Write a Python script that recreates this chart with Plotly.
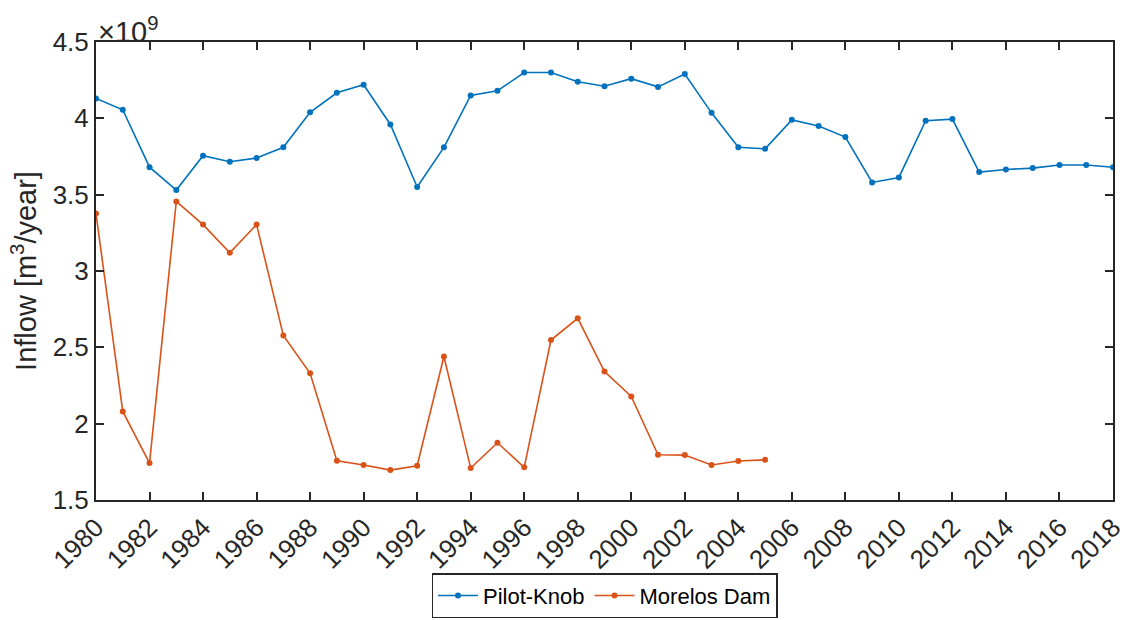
import plotly.graph_objects as go

years = list(range(1980, 2019))
pilot_knob = [4.13, 4.056, 3.68, 3.53, 3.755, 3.716, 3.74, 3.81, 4.04, 4.167,
              4.22, 3.96, 3.55, 3.81, 4.15, 4.18, 4.30, 4.30, 4.24, 4.21,
              4.26, 4.206, 4.29, 4.036, 3.81, 3.80, 3.99, 3.95, 3.877, 3.58,
              3.613, 3.984, 3.995, 3.648, 3.665, 3.674, 3.694, 3.694, 3.68]
morelos_years = list(range(1980, 2006))
morelos_dam = [3.376, 2.08, 1.742, 3.456, 3.304, 3.119, 3.304, 2.578, 2.33, 1.757,
               1.729, 1.696, 1.724, 2.44, 1.709, 1.875, 1.714, 2.548, 2.69, 2.341,
               2.178, 1.796, 1.794, 1.729, 1.755, 1.763]
y_ticks = [1.5, 2, 2.5, 3, 3.5, 4, 4.5]
x_ticks = list(range(1980, 2019, 2))

scale = 1e9
font = 'Liberation Sans, Arial, sans-serif'
ink = '#262626'

fig = go.Figure()
fig.add_trace(go.Scatter(
    x=years, y=[v * scale for v in pilot_knob], name='Pilot-Knob',
    mode='lines+markers', line=dict(color='#0072BD', width=1.6),
    marker=dict(symbol='circle', size=6, color='#0072BD'),
))
fig.add_trace(go.Scatter(
    x=morelos_years, y=[v * scale for v in morelos_dam], name='Morelos Dam',
    mode='lines+markers', line=dict(color='#D95319', width=1.6),
    marker=dict(symbol='circle', size=6, color='#D95319'),
))

axis_common = dict(
    showline=True, linecolor=ink, linewidth=2, mirror='ticks',
    ticks='inside', ticklen=8, tickwidth=2, tickcolor=ink,
    showgrid=False, zeroline=False, automargin=False,
    tickfont=dict(family=font, size=26, color=ink),
)

fig.update_xaxes(
    range=[1980, 2018], tickvals=x_ticks, ticktext=[str(t) for t in x_ticks],
    tickangle=-45, **axis_common,
)
fig.update_yaxes(
    range=[1.5 * scale, 4.5 * scale], tickvals=[t * scale for t in y_ticks],
    ticktext=[f'{t:g}' for t in y_ticks],
    title=dict(text='Inflow [m<sup>3</sup>/year]', font=dict(family=font, size=29, color=ink),
               standoff=7),
    **axis_common,
)

fig.add_annotation(
    xref='paper', yref='paper', x=0.0, y=1.0, xanchor='left', yanchor='bottom',
    text='×10<sup>9</sup>', showarrow=False, yshift=-8,
    font=dict(family=font, size=29, color=ink),
)

fig.update_layout(
    width=1139, height=620,
    template='plotly_white',
    plot_bgcolor='white', paper_bgcolor='white',
    margin=dict(l=96, r=26, t=42, b=120, autoexpand=False),
    legend=dict(
        orientation='h', xanchor='center', x=0.5,
        yref='container', yanchor='bottom', y=0.003,
        bordercolor=ink, borderwidth=1.5, bgcolor='white',
        font=dict(family=font, size=22, color='black'),
        itemwidth=40, tracegroupgap=0,
    ),
)

# drop the default body margin so the figure sits flush in the window
fig.write_html('out.html', config={'displayModeBar': False},
               post_script="document.body.style.margin='0';")
